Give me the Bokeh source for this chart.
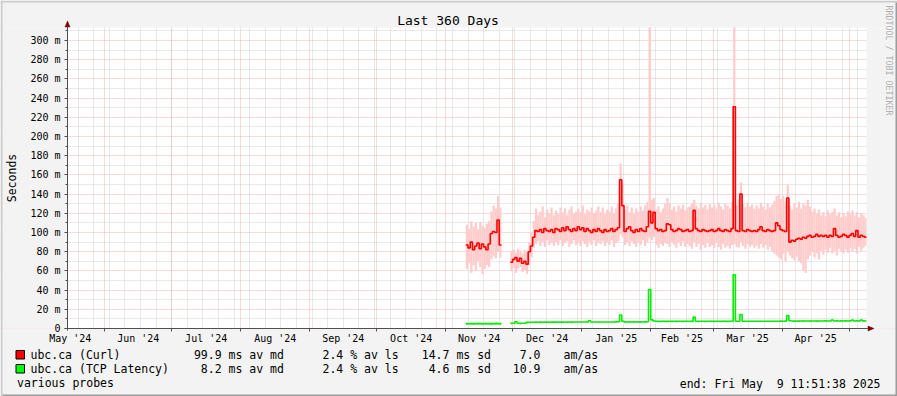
from datetime import datetime
import math
from bokeh.plotting import figure
from bokeh.models import Range1d, FixedTicker, Grid
from bokeh.core.properties import value
from bokeh.embed import file_html
from bokeh.resources import INLINE

# ---------------- data ----------------
BASE = datetime(2024, 5, 14)

month_starts = ["2024-05-01", "2024-06-01", "2024-07-01", "2024-08-01", "2024-09-01",
                "2024-10-01", "2024-11-01", "2024-12-01", "2025-01-01", "2025-02-01",
                "2025-03-01", "2025-04-01", "2025-05-01"]
month_labels = ["May '24", "Jun '24", "Jul '24", "Aug '24", "Sep '24", "Oct '24",
                "Nov '24", "Dec '24", "Jan '25", "Feb '25", "Mar '25", "Apr '25"]
first_monday = "2024-05-20"

y_ticks = [0, 20, 40, 60, 80, 100, 120, 140, 160, 180, 200, 220, 240, 260, 280, 300]
y_labels = ["0", "20 m", "40 m", "60 m", "80 m", "100 m", "120 m", "140 m", "160 m",
            "180 m", "200 m", "220 m", "240 m", "260 m", "280 m", "300 m"]

# Curl (ms), daily, segment A
curl_a_start = "2024-11-10"
curl_a_median = [87, 84, 90, 82, 86, 89, 83, 88, 85, 82, 88, 99, 101, 100, 113, 87]
curl_a_hi = [108, 104, 112, 106, 110, 103, 111, 107, 105, 109, 112, 122, 128, 125, 138, 126]
curl_a_lo = [62, 68, 58, 66, 60, 70, 64, 57, 62, 66, 64, 72, 75, 73, 80, 74]

# Curl (ms), daily, segment B
curl_b_start = "2024-11-30"
curl_b_median = [
    69, 72, 74, 70, 73, 68, 70, 67, 80, 86,
    95, 102, 101, 103, 100, 104, 102, 101, 103, 100,
    104, 103, 101, 105, 102, 106, 103, 101, 104, 102,
    106, 103, 105, 101, 104, 102, 100, 103, 101, 104,
    102, 100, 103, 101, 102, 104, 101, 103, 105, 155,
    128, 101, 104, 106, 102, 100, 103, 101, 104, 102,
    101, 106, 122, 110, 121, 104, 102, 103, 101, 102,
    109, 108, 103, 101, 102, 104, 103, 101, 102, 103,
    101, 102, 123, 104, 102, 101, 103, 102, 101, 102,
    103, 101, 102, 104, 102, 101, 103, 102, 101, 104,
    231, 102, 101, 140, 102, 101, 103, 102, 101, 102,
    101, 103, 106, 102, 101, 103, 102, 101, 102, 110,
    107, 103, 102, 101, 136, 90, 92, 91, 93, 94,
    93, 95, 94, 96, 97, 95, 96, 98, 96, 97,
    96, 97, 95, 97, 96, 104, 97, 95, 96, 98,
    97, 95, 97, 99, 96, 102, 95, 97, 96, 95]
curl_b_hi = [
    80, 82, 79, 83, 81, 78, 82, 80, 90, 100,
    112, 125, 118, 122, 127, 116, 124, 120, 126, 118,
    123, 119, 126, 121, 125, 118, 124, 127, 120, 122,
    125, 121, 128, 119, 124, 122, 126, 120, 123, 127,
    121, 126, 119, 124, 122, 127, 120, 125, 130, 172,
    150, 124, 128, 121, 126, 119, 125, 122, 127, 123,
    128, 132, 330, 134, 136, 124, 127, 121, 125, 130,
    136, 131, 124, 127, 122, 128, 125, 129, 123, 126,
    127, 130, 134, 128, 125, 131, 126, 129, 124, 130,
    126, 129, 125, 131, 127, 124, 130, 128, 125, 132,
    330, 128, 135, 152, 130, 126, 131, 127, 129, 125,
    128, 125, 131, 127, 124, 130, 126, 129, 133, 138,
    140, 135, 138, 132, 150, 128, 124, 130, 126, 132,
    125, 130, 128, 134, 127, 122, 125, 120, 124, 118,
    121, 117, 123, 119, 122, 125, 118, 121, 116, 120,
    117, 122, 119, 123, 118, 121, 116, 120, 118, 115]
curl_b_lo = [
    60, 63, 58, 62, 64, 59, 61, 57, 66, 74,
    84, 88, 91, 86, 90, 85, 92, 87, 89, 86,
    90, 87, 92, 86, 89, 91, 85, 88, 92, 87,
    89, 86, 91, 88, 85, 90, 87, 92, 86, 89,
    88, 91, 86, 90, 87, 92, 85, 89, 91, 98,
    95, 87, 90, 86, 91, 88, 85, 90, 87, 92,
    86, 90, 94, 92, 95, 87, 84, 88, 86, 89,
    88, 85, 90, 87, 84, 89, 86, 91, 85, 88,
    86, 83, 90, 85, 88, 82, 87, 84, 89, 85,
    87, 84, 89, 85, 82, 88, 84, 86, 83, 87,
    88, 85, 84, 90, 86, 83, 88, 85, 87, 84,
    86, 83, 88, 84, 87, 82, 85, 80, 78, 76,
    74, 72, 78, 70, 80, 76, 73, 71, 75, 70,
    68, 60, 58, 72, 76, 80, 74, 78, 72, 81,
    77, 82, 79, 84, 78, 81, 76, 83, 80, 78,
    82, 79, 84, 80, 83, 78, 85, 81, 84, 86]

# TCP latency (ms), daily
tcp_a_start = "2024-11-10"
tcp_a_median = [4.8, 4.9, 5.0, 4.8, 4.9, 5.1, 4.9, 4.8, 5.0, 4.9, 5.0, 4.8, 4.9, 5.1, 5.0, 4.9]
tcp_a_hi = [7.0, 6.5, 7.2, 6.8, 7.4, 6.9, 7.1, 6.6, 7.3, 6.8, 7.5, 7.0, 6.7, 7.4, 7.2, 6.9]
tcp_a_lo = [3.6, 3.8, 3.5, 3.9, 3.7, 3.6, 3.8, 3.5, 3.7, 3.9, 3.6, 3.8, 3.7, 3.5, 3.8, 3.6]
tcp_b_start = "2024-11-30"
tcp_b_median = [
    5.3, 5.4, 7.0, 5.4, 5.3, 5.5, 5.4, 6.4, 6.5, 6.5,
    6.5, 6.6, 6.5, 6.6, 6.5, 6.6, 6.6, 6.5, 6.6, 6.6,
    6.6, 6.7, 6.6, 6.6, 6.7, 6.6, 6.7, 6.6, 6.7, 6.7,
    6.7, 6.8, 6.7, 6.7, 6.8, 8.0, 6.7, 6.8, 6.7, 6.8,
    6.8, 6.7, 6.8, 6.8, 6.7, 6.8, 6.8, 6.9, 7.0, 14.0,
    7.5, 6.9, 6.8, 6.9, 6.8, 6.9, 6.8, 6.9, 6.9, 6.8,
    6.9, 7.0, 40.6, 9.0, 7.8, 7.5, 7.4, 7.4, 7.5, 7.4,
    7.4, 7.5, 7.4, 7.5, 7.4, 7.5, 7.5, 7.4, 7.5, 7.5,
    7.5, 7.4, 11.8, 7.5, 7.4, 7.5, 7.5, 7.4, 7.5, 7.5,
    7.5, 7.4, 7.5, 7.5, 7.4, 7.5, 7.5, 7.4, 7.6, 7.5,
    56.0, 7.6, 7.5, 14.6, 7.6, 7.5, 7.6, 7.5, 7.6, 7.5,
    7.6, 7.5, 7.6, 7.6, 7.5, 7.6, 7.6, 7.5, 7.6, 7.6,
    7.6, 7.7, 7.6, 7.7, 13.5, 8.0, 7.8, 7.7, 7.8, 7.7,
    7.8, 7.7, 7.8, 7.8, 7.7, 7.8, 7.8, 7.7, 7.8, 7.8,
    7.8, 7.9, 7.8, 7.8, 8.8, 7.8, 7.9, 7.8, 7.9, 7.8,
    7.9, 7.8, 7.9, 8.7, 7.8, 7.9, 7.8, 8.8, 7.9, 7.8]

legend_names = ["ubc.ca (Curl)", "ubc.ca (TCP Latency)"]
legend_colors = ["#FF0000", "#00FF00"]
stat_median = ["99.9 ms av md", "8.2 ms av md"]
stat_loss = ["2.4 % av ls", "2.4 % av ls"]
stat_sd = ["14.7 ms sd", "4.6 ms sd"]
stat_amas = ["7.0", "10.9"]
stat_unit = ["am/as", "am/as"]
title_text = "Last 360 Days"
end_text_a = "end: Fri May"
end_text_b = "9 11:51:38 2025"
probes_text = "various probes"
y_title = "Seconds"
watermark = "RRDTOOL / TOBI OETIKER"

# ---------------- layout helpers ----------------
def day(s):
    return (datetime.strptime(s, "%Y-%m-%d") - BASE).total_seconds() / 86400.0

W, H = 897, 396
PL, PR, PT, PB = 67, 866, 27, 328          # plot area in pixels
X0, X1 = 1.257, 359.83                      # days shown in plot area
Y1 = 313.54                                 # ms at plot top
KX = (PR - PL) / (X1 - X0)
KY = (PB - PT) / Y1

def fx(px):
    return X0 + (px - PL) / KX

def fy(py):
    return (PB - py) / KY

XS, XE = fx(0), fx(W)
YS, YE = fy(H), fy(0)

MONO = "DejaVu Sans Mono"
BG = "#F3F3F3"
CW = 6.92   # monospace advance at 11.5px

p = figure(width=W, height=H, x_range=Range1d(XS, XE), y_range=Range1d(YS, YE),
           output_backend="svg", toolbar_location=None,
           min_border_left=0, min_border_right=0, min_border_top=0, min_border_bottom=0)
p.border_fill_color = BG
p.background_fill_color = "#FFFFFF"
p.outline_line_color = None

# ---------------- axes ----------------
ms_days = [day(s) for s in month_starts]
label_pos = [(ms_days[i] + ms_days[i + 1]) / 2 for i in range(len(month_labels))]
grid_months = [d for d in ms_days if X0 < d < X1]
mondays = []
d0 = day(first_monday)
while d0 < X1:
    mondays.append(d0)
    d0 += 7

AX = "#505050"
xa = p.xaxis[0]
xa.fixed_location = 0
xa.bounds = (fx(64), fx(868))
xa.ticker = FixedTicker(ticks=label_pos, minor_ticks=grid_months)
xa.major_label_overrides = {lp: lab for lp, lab in zip(label_pos, month_labels)}
xa.major_tick_line_color = None
xa.major_tick_out = 0
xa.major_tick_in = 0
xa.minor_tick_out = 3
xa.minor_tick_in = 0
xa.minor_tick_line_color = AX
xa.axis_line_color = AX
xa.major_label_standoff = 1
xa.major_label_text_font = MONO
xa.major_label_text_font_size = "10px"
xa.major_label_text_color = "#000000"

ya = p.yaxis[0]
ya.fixed_location = X0
ya.bounds = (fy(330), fy(26))
ya.ticker = FixedTicker(ticks=y_ticks, minor_ticks=[t + 10 for t in y_ticks])
ya.major_label_overrides = {t: lab for t, lab in zip(y_ticks, y_labels)}
ya.major_tick_out = 3
ya.major_tick_in = 0
ya.minor_tick_out = 2
ya.minor_tick_in = 0
ya.major_tick_line_color = AX
ya.minor_tick_line_color = AX
ya.axis_line_color = AX
ya.major_label_standoff = 4
ya.major_label_text_font = MONO
ya.major_label_text_font_size = "10px"
ya.major_label_text_color = "#000000"

GRAY = "#D2D2D2"
RED = "#F3B4B4"
p.xgrid.ticker = FixedTicker(ticks=mondays)
p.xgrid.grid_line_color = GRAY
p.xgrid.grid_line_dash = "1 1"
p.ygrid.grid_line_color = RED
p.ygrid.grid_line_dash = "1 1"
p.ygrid.minor_grid_line_color = GRAY
p.ygrid.minor_grid_line_dash = "1 1"
p.add_layout(Grid(dimension=0, ticker=FixedTicker(ticks=grid_months),
                  grid_line_color=RED, grid_line_dash="1 1"))

# ---------------- data marks ----------------
def smoke(start, lo, hi, color):
    s = day(start)
    left = [s + i for i in range(len(lo))]
    right = [s + i + 1 for i in range(len(lo))]
    p.quad(left=left, right=right, bottom=lo, top=hi, fill_color=color, line_color=None)

smoke(curl_a_start, curl_a_lo, curl_a_hi, "#FFCCCC")
smoke(curl_b_start, curl_b_lo, curl_b_hi, "#FFCCCC")
smoke(tcp_a_start, tcp_a_lo, tcp_a_hi, "#C8F5C8")

def median(start, vals, color):
    s = day(start)
    xs = [s + i for i in range(len(vals))] + [s + len(vals)]
    ys = list(vals) + [vals[-1]]
    p.step(x=xs, y=ys, mode="after", line_color=color, line_width=1.6)

median(curl_a_start, curl_a_median, "#FF0000")
median(curl_b_start, curl_b_median, "#FF0000")
median(tcp_a_start, tcp_a_median, "#00EE00")
median(tcp_b_start, tcp_b_median, "#00EE00")

# ---------------- canvas outside the plot area ----------------
p.quad(left=[XS, XS, XS, X1], right=[XE, XE, X0, XE],
       bottom=[Y1, YS, 0, 0], top=[YE, 0, Y1, Y1],
       fill_color=BG, line_color=None)
# shaded frame of the image
p.quad(left=[XS, XS], right=[XE, fx(2)], bottom=[fy(2), YS], top=[YE, YE],
       fill_color="#CBCBCB", line_color=None)
p.quad(left=[fx(2), fx(W - 2)], right=[XE, XE], bottom=[YS, YS], top=[fy(H - 2), fy(2)],
       fill_color="#9C9C9C", line_color=None)

# axis arrow heads
AR = "#7F0000"
p.patches(xs=[[fx(64.5), fx(69.5), fx(67)], [fx(867.5), fx(867.5), fx(873.5)]],
          ys=[[fy(26.5), fy(26.5), fy(20.5)], [fy(325.5), fy(330.5), fy(328)]],
          fill_color=AR, line_color=AR, line_width=0.5)

# ---------------- texts ----------------
def txt(px, py, texts, size="11.5px", align="left", color="#000000", angle=0.0):
    p.text(x=[fx(v) for v in px], y=[fy(v) for v in py], text=texts,
           text_font=value(MONO), text_font_size=value(size), text_align=align,
           text_baseline="middle", text_color=color, angle=angle)

txt([447.5], [19.5], [title_text], size="13px", align="center")
txt([11.5], [177.5], [y_title], size="11.5px", align="center", angle=math.pi / 2)
txt([888], [60], [watermark], size="8.3px", align="center", color="#B0B0B0",
    angle=-math.pi / 2)

rows_y = [354, 368]
p.quad(left=[fx(15.5)] * 2, right=[fx(24)] * 2,
       top=[fy(350), fy(364)], bottom=[fy(358.5), fy(372.5)],
       fill_color=legend_colors, line_color="#000000", line_width=1)
txt([30, 30], rows_y, legend_names)
txt([283.4, 283.4], rows_y, stat_median, align="right")
txt([322, 322], rows_y, stat_loss)
txt([490.5, 490.5], rows_y, stat_sd, align="right")
txt([540, 540], rows_y, stat_amas, align="right")
txt([563, 563], rows_y, stat_unit)
txt([16.5], [382.5], [probes_text])
END_R = 880
txt([END_R], [383], [end_text_b], align="right")
txt([END_R - (len(end_text_b) + 2) * CW], [383], [end_text_a], align="right")

open("out.html", "w").write(file_html(p, INLINE))
